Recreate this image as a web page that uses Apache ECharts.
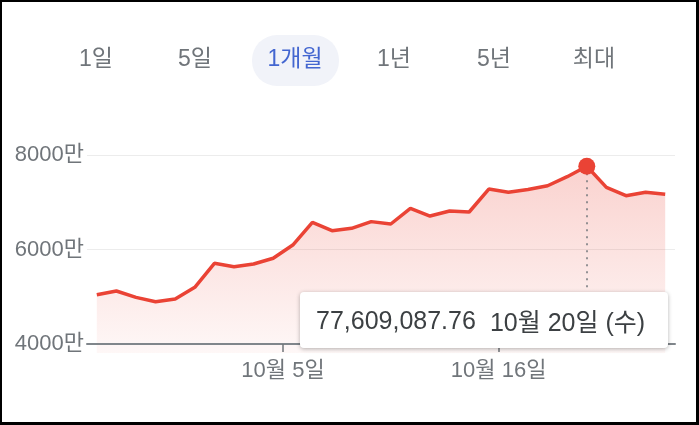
<!DOCTYPE html>
<html>
<head>
<meta charset="utf-8">
<script src="https://cdn.jsdelivr.net/npm/echarts@6/dist/echarts.min.js"></script>
<style>
  html, body { margin: 0; padding: 0; background: #fff; }
  #chart { position: absolute; left: 0; top: 0; width: 699px; height: 425px; }
  #frame {
    position: absolute; left: 0; top: 0; width: 699px; height: 425px;
    box-sizing: border-box; border: solid #000; border-width: 2px 3px 3px 2px;
    pointer-events: none; z-index: 10;
  }
</style>
</head>
<body>
<div id="chart"></div>
<div id="frame"></div>
<script>
// ── 데이터 ─────────────────────────────────────────────
const tabs = ['1일', '5일', '1개월', '1년', '5년', '최대']
const activeTab = 2

const dates = [
  '2021-09-25', '2021-09-26', '2021-09-27', '2021-09-28', '2021-09-29', '2021-09-30',
  '2021-10-01', '2021-10-02', '2021-10-03', '2021-10-04', '2021-10-05', '2021-10-06',
  '2021-10-07', '2021-10-08', '2021-10-09', '2021-10-10', '2021-10-11', '2021-10-12',
  '2021-10-13', '2021-10-14', '2021-10-15', '2021-10-16', '2021-10-17', '2021-10-18',
  '2021-10-19', '2021-10-20', '2021-10-21', '2021-10-22', '2021-10-23', '2021-10-24',
]
const prices = [
  50430000, 51220000, 49880000, 48950000, 49520000, 52000000,
  57080000, 56360000, 56930000, 58140000, 60950000, 65760000,
  63980000, 64490000, 65900000, 65400000, 68720000, 67090000,
  68150000, 67940000, 72800000, 72110000, 72700000, 73500000,
  75410000, 77609087.76, 73160000, 71390000, 72110000, 71680000,
]
const activeIndex = 25            // 10월 20일

const xTickDates = ['2021-10-05', '2021-10-16']
const xRange = ['2021-09-25', '2021-10-25']
const yTicks = [40000000, 60000000, 80000000]
const yMin = 38100000
const yMax = 80000000

// ── 보조 ───────────────────────────────────────────────
const FONT = '"Liberation Sans", Arial, "Noto Sans CJK KR", sans-serif'
const RED = '#ea4335'
const GRAY = '#70757a'
const HALF_DAY = 12 * 3600 * 1000
const WEEK = ['일', '월', '화', '수', '목', '금', '토']

const toTime = s => Date.parse(s + 'T00:00:00Z')
const series = dates.map((d, i) => [toTime(d) + HALF_DAY, prices[i]])

const fmtDate = t => {
  const d = new Date(t)
  return (d.getUTCMonth() + 1) + '월 ' + d.getUTCDate() + '일'
}
const fmtPrice = v => v.toLocaleString('en-US', { minimumFractionDigits: 2, maximumFractionDigits: 2 })

// 상단 기간 탭
const tabX = [96, 195, 295, 394, 494, 594]
const graphic = [
  { type: 'rect', shape: { x: 252, y: 35, width: 87, height: 51, r: 25 }, style: { fill: '#f1f3f9' } },
  ...tabs.map((t, i) => ({
    type: 'text',
    x: tabX[i], y: 60,
    style: {
      text: t, align: 'center', verticalAlign: 'middle',
      font: '23px ' + FONT,
      fill: i === activeTab ? '#4366d0' : GRAY,
    },
  })),
]

const chart = echarts.init(document.getElementById('chart'), null, { renderer: 'canvas' })

chart.setOption({
  animation: false,
  backgroundColor: '#fff',
  textStyle: { fontFamily: FONT },
  graphic,
  grid: { left: 87, right: 24, top: 155, bottom: 72, outerBoundsMode: 'none' },
  tooltip: {
    trigger: 'axis',
    triggerOn: 'none',
    alwaysShowContent: true,
    transitionDuration: 0,
    axisPointer: { type: 'none' },
    position: [300, 292],
    padding: 0,
    borderWidth: 0,
    backgroundColor: '#fff',
    extraCssText: 'box-shadow:0 1px 4px rgba(0,0,0,0.3);border-radius:4px;',
    formatter(params) {
      const p = params[0]
      const d = new Date(toTime(dates[p.dataIndex]))
      return '<div style="width:368px;height:56px;box-sizing:border-box;padding:0 16px;'
        + 'display:flex;align-items:center;gap:14px;white-space:nowrap;'
        + 'font:25px ' + FONT.replace(/"/g, "'") + ';color:#3c4043;">'
        + '<span>' + fmtPrice(p.value[1]) + '</span>'
        + '<span>' + fmtDate(d.getTime()) + ' (' + WEEK[d.getUTCDay()] + ')</span></div>'
    },
  },
  xAxis: {
    type: 'value',
    min: toTime(xRange[0]),
    max: toTime(xRange[1]),
    offset: -9,
    z: 5,
    axisLine: { lineStyle: { color: '#80868b', width: 2 } },
    axisTick: {
      customValues: xTickDates.map(toTime),
      length: 8,
      lineStyle: { color: GRAY, width: 1.5 },
    },
    axisLabel: {
      customValues: xTickDates.map(toTime),
      formatter: v => fmtDate(v),
      color: GRAY,
      fontSize: 22,
      margin: 16,
      fontFamily: FONT,
    },
    splitLine: { show: false },
  },
  yAxis: {
    type: 'value',
    min: yMin,
    max: yMax,
    axisLine: { show: false },
    axisTick: { show: false, customValues: yTicks },
    axisLabel: {
      customValues: yTicks,
      formatter: v => (v / 10000) + '만',
      color: GRAY,
      fontSize: 22,
      margin: 3,
      fontFamily: FONT,
    },
    splitLine: { lineStyle: { color: '#ececec', width: 1 } },
  },
  series: [
    {
      type: 'line',
      data: series,
      showSymbol: false,
      emphasis: { disabled: true },
      lineStyle: { color: RED, width: 3.5 },
      areaStyle: {
        color: new echarts.graphic.LinearGradient(0, 0, 0, 1, [
          { offset: 0, color: 'rgba(234,67,53,0.34)' },
          { offset: 1, color: 'rgba(234,67,53,0.06)' },
        ]),
      },
      markLine: {
        silent: true,
        symbol: ['none', 'none'],
        label: { show: false },
        lineStyle: { color: GRAY, type: [2, 5], width: 1.5 },
        data: [[
          { coord: series[activeIndex] },
          { coord: [series[activeIndex][0], yTicks[0]] },
        ]],
      },
      markPoint: {
        silent: true,
        symbol: 'circle',
        symbolSize: 17,
        itemStyle: { color: RED },
        label: { show: false },
        data: [{ coord: series[activeIndex] }],
      },
    },
  ],
})

chart.dispatchAction({ type: 'showTip', seriesIndex: 0, dataIndex: activeIndex })
</script>
</body>
</html>
